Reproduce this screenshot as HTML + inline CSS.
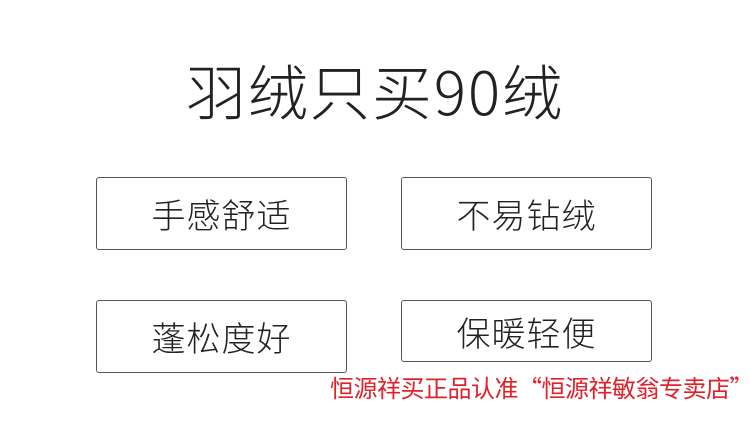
<!DOCTYPE html>
<html><head><meta charset="utf-8"><style>
body{margin:0;width:750px;height:426px;background:#fff;position:relative;overflow:hidden;font-family:"Liberation Sans","Noto Sans CJK SC",sans-serif;}
.t{position:absolute;left:0;width:750px;top:50px;text-align:center;font-size:60px;font-weight:300;color:#222;letter-spacing:2px;line-height:80px;font-family:"Noto Sans CJK SC",sans-serif}
.b{position:absolute;border:1.5px solid #555;border-radius:3px;box-sizing:border-box;display:flex;align-items:center;justify-content:center;font-size:34px;font-weight:300;color:#222;letter-spacing:1px;font-family:"Noto Sans CJK SC",sans-serif}
.r{position:absolute;left:330px;top:369px;font-size:24px;color:#e0202a;white-space:nowrap;font-family:"Noto Sans CJK SC",sans-serif;letter-spacing:-0.5px}
</style></head><body>
<div class="t">羽绒只买90绒</div>
<div class="b" style="left:96px;top:177px;width:251px;height:73px">手感舒适</div>
<div class="b" style="left:401px;top:177px;width:251px;height:73px">不易钻绒</div>
<div class="b" style="left:96px;top:300px;width:251px;height:73px">蓬松度好</div>
<div class="b" style="left:401px;top:300px;width:251px;height:62px">保暖轻便</div>
<div class="r">恒源祥买正品认准“恒源祥敏翁专卖店”</div>
</body></html>
